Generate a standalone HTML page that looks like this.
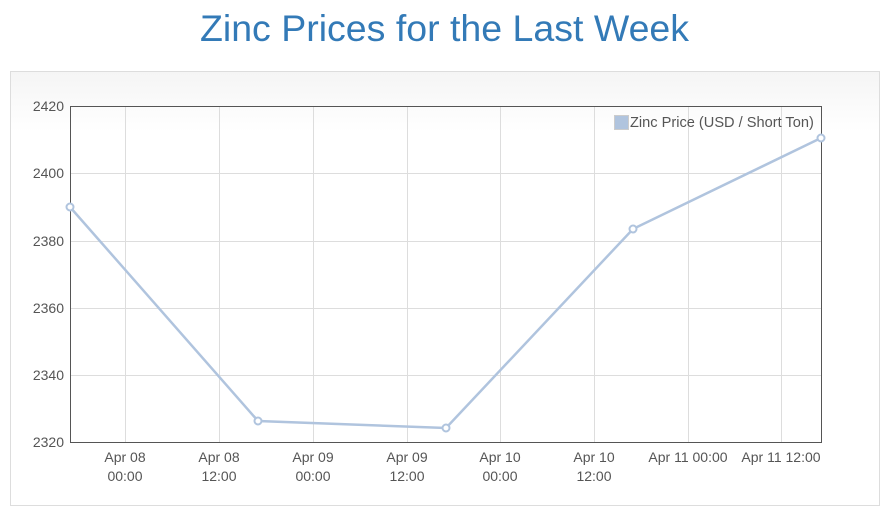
<!DOCTYPE html><html><head><style>
body{margin:0;background:#fff;width:889px;height:517px;overflow:hidden;font-family:"Liberation Sans",sans-serif}
h1{position:absolute;left:0;width:889px;top:7px;margin:0;text-align:center;font-weight:normal;font-size:37.5px;color:#337ab7}
.panel{position:absolute;left:10px;top:71px;width:870px;height:435px;border:1px solid #ddd;background:linear-gradient(#f5f5f5,#fff 60px);box-sizing:border-box}
</style></head><body>
<h1>Zinc Prices for the Last Week</h1>
<div class="panel"></div>
<svg width="889" height="517" style="position:absolute;left:0;top:0" font-family="Liberation Sans,sans-serif" font-size="14" fill="#555">
<g stroke="#ddd" stroke-width="1">
<line x1="70" x2="821" y1="173.5" y2="173.5"/><line x1="70" x2="821" y1="241.5" y2="241.5"/><line x1="70" x2="821" y1="308.5" y2="308.5"/><line x1="70" x2="821" y1="375.5" y2="375.5"/>
<line x1="125.5" x2="125.5" y1="106" y2="442"/><line x1="219.5" x2="219.5" y1="106" y2="442"/><line x1="313.5" x2="313.5" y1="106" y2="442"/><line x1="407.5" x2="407.5" y1="106" y2="442"/><line x1="500.5" x2="500.5" y1="106" y2="442"/><line x1="594.5" x2="594.5" y1="106" y2="442"/><line x1="688.5" x2="688.5" y1="106" y2="442"/><line x1="781.5" x2="781.5" y1="106" y2="442"/>
</g>
<rect x="70.5" y="106.5" width="751" height="336" fill="none" stroke="#555"/>
<g text-anchor="end"><text x="64" y="111">2420</text><text x="64" y="178">2400</text><text x="64" y="246">2380</text><text x="64" y="313">2360</text><text x="64" y="380">2340</text><text x="64" y="447">2320</text></g>
<g text-anchor="middle">
<text x="125" y="462">Apr 08</text><text x="125" y="481">00:00</text>
<text x="219" y="462">Apr 08</text><text x="219" y="481">12:00</text>
<text x="313" y="462">Apr 09</text><text x="313" y="481">00:00</text>
<text x="407" y="462">Apr 09</text><text x="407" y="481">12:00</text>
<text x="500" y="462">Apr 10</text><text x="500" y="481">00:00</text>
<text x="594" y="462">Apr 10</text><text x="594" y="481">12:00</text>
<text x="688" y="462">Apr 11 00:00</text><text x="781" y="462">Apr 11 12:00</text>
</g>
<polyline points="70,207 258,421 446,428 633,229 821,138" fill="none" stroke="#b0c4de" stroke-width="2.5"/>
<g fill="#fff" stroke="#b0c4de" stroke-width="2"><circle cx="70" cy="207" r="3.5"/><circle cx="258" cy="421" r="3.5"/><circle cx="446" cy="428" r="3.5"/><circle cx="633" cy="229" r="3.5"/><circle cx="821" cy="138" r="3.5"/></g>
<rect x="614.5" y="115.5" width="14" height="14" fill="#b0c4de" stroke="#ccc"/>
<text x="630" y="127" fill="#555" font-size="14.6">Zinc Price (USD / Short Ton)</text>
</svg>
</body></html>
